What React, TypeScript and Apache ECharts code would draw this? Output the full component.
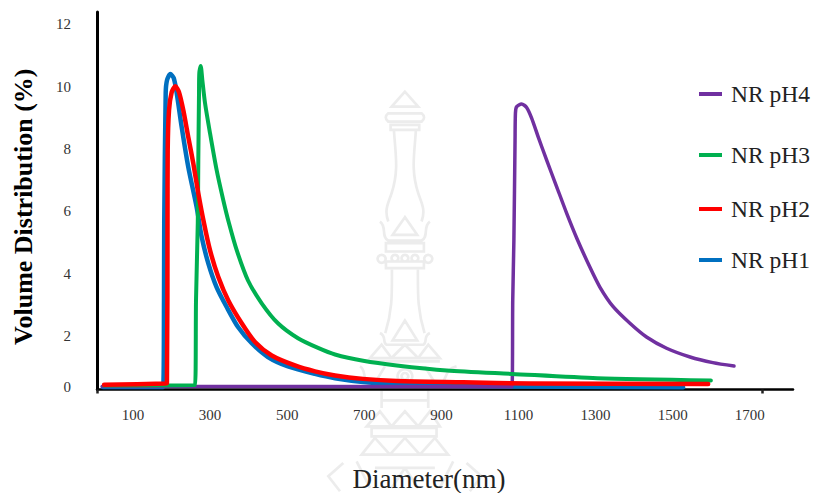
import React, { useEffect, useRef } from "react";
import * as echarts from "echarts";

const serif = "'Liberation Serif', 'Times New Roman', serif";

const seriesNames = ["NR pH1", "NR pH4", "NR pH3", "NR pH2"];
const seriesColors = ["#0070C0", "#7030A0", "#00B050", "#FF0000"];

const ph1: number[][] = [[22,0.38],[178,0.38],[180.4,3.15],[181,5.62],[184.8,9.79],[188.2,10.2],[196.8,10.4],[205.6,10.27],[213.4,9.79],[226.3,8.7],[243.4,7.42],[265.2,6.13],[278.2,5.18],[295.3,4.34],[317,3.57],[343,2.94],[372.4,2.3],[408,1.78],[450,1.34],[502,1.04],[572,0.8],[624,0.66],[697,0.54],[785,0.46],[948,0.41],[1527,0.37]];
const ph2: number[][] = [[25,0.45],[183,0.49],[188,0.5],[189.5,5.62],[190,7.96],[193.4,9.24],[200.4,9.82],[209.7,10.01],[219.3,9.82],[230.5,9.24],[243.4,8.38],[256.4,7.54],[269.4,6.58],[284.2,5.62],[299.7,4.76],[321.3,3.9],[347.2,3.15],[382,2.42],[416.5,1.82],[459.8,1.39],[520,1.07],[572,0.88],[624,0.75],[696.6,0.64],[784.8,0.57],[956,0.53],[1130,0.49],[1592,0.48]];
const ph3: number[][] = [[25,0.43],[261,0.445],[263.4,3.15],[268,5.62],[269.4,7.64],[271.2,9.79],[272,10.44],[275.6,10.66],[279.8,10.21],[286.8,9.47],[299.7,8.51],[317,7.32],[334.2,6.36],[349,5.62],[369,4.76],[398.3,3.79],[433.8,3.06],[476,2.42],[528,1.94],[580,1.63],[624,1.42],[697,1.22],[784,1.07],[914,0.91],[1083,0.8],[1304,0.66],[1599,0.59]];
const ph4: number[][] = [[20,0.4],[1083,0.39],[1085,3.15],[1088,5.08],[1091,8.28],[1092,9.15],[1095,9.35],[1108,9.44],[1121,9.33],[1134,8.99],[1151,8.39],[1173,7.64],[1199,6.79],[1225,5.94],[1252,5.12],[1285,4.22],[1311,3.58],[1345,2.96],[1389,2.42],[1432,1.98],[1484,1.62],[1545,1.34],[1604,1.16],[1659,1.05]];
const seriesData = [ph1, ph4, ph3, ph2];

const xTickLabels = [100, 300, 500, 700, 900, 1100, 1300, 1500, 1700];
const yTickLabels = [0.365, 2, 4, 6, 8, 10, 12];
const xMin = 6.6;
const xMax = 1812;
const yMin = 0.3;
const yMax = 12.385;
const xTickMarks = [xMin, 1731];

const legendOrder = [
  { name: "NR pH4", top: 82 },
  { name: "NR pH3", top: 143 },
  { name: "NR pH2", top: 197 },
  { name: "NR pH1", top: 248 },
];

const emblem = [
  // finial
  "M255 35 L215 80 H295 Z",
  "M205 100 H305 Q320 112 305 125 H205 Q190 112 205 100 Z",
  "M212 135 H298 V150 H212 Z",
  "M222 150 C226 220 238 270 215 340 C205 370 192 390 205 425",
  "M288 150 C284 220 272 270 295 340 C305 370 318 390 305 425",
  // upper crown
  "M255 412 L218 465 H292 Z",
  "M180 425 C202 440 182 470 205 482 H305 C328 470 308 440 330 425",
  "M198 490 H312 V515 H198 Z",
  "M185 525 a12 12 0 1 0 0.1 0 M225 525 a10 10 0 1 0 0.1 0 M255 525 a10 10 0 1 0 0.1 0 M285 525 a10 10 0 1 0 0.1 0 M325 525 a12 12 0 1 0 0.1 0",
  "M198 545 H312 V565 H198 Z",
  // lower stem
  "M216 570 C216 640 218 690 196 760",
  "M294 570 C294 640 292 690 314 760",
  "M255 722 L218 782 H292 Z",
  "M180 760 C202 770 186 790 200 795 H310 C324 790 308 770 330 760",
  // tiers
  "M150 835 L185 795 L215 835 Z M215 835 L255 795 L295 835 Z M295 835 L325 795 L360 835 Z",
  "M150 845 H360",
  "M120 860 C140 870 125 900 150 915 H360 C385 900 370 870 410 860",
  "M255 868 a22 22 0 1 0 0.1 0 M255 880 a10 10 0 1 0 0.1 0",
  "M195 860 L165 910 M315 860 L345 910",
  "M185 930 H325 V962 H185 Z",
  "M185 962 V985 M325 962 V985",
  "M140 1040 L180 995 L215 1040 Z M215 1040 L255 995 L295 1040 Z M295 1040 L330 995 L360 1040 Z",
  "M155 1045 H350 V1070 H155 Z",
  "M125 1125 L165 1075 L210 1125 Z M210 1125 L255 1075 L300 1125 Z M300 1125 L345 1075 L385 1125 Z",
  "M70 1150 L25 1190 L60 1235 M440 1150 L485 1190 L450 1235",
  "M110 1145 L150 1225 M400 1145 L360 1225",
  "M165 1165 H345 M255 1165 L215 1225 M255 1165 L295 1225",
].join(" ");

echarts.graphic.registerShape("emblem", echarts.graphic.extendPath(emblem, {}) as any);

export default function App() {
  const ref = useRef<HTMLDivElement>(null);
  useEffect(() => {
    document.body.style.margin = "0";
    document.body.style.background = "#fff";
    const chart = echarts.init(ref.current!, undefined, { renderer: "svg" });
    chart.setOption({
      animation: false,
      backgroundColor: "#ffffff",
      textStyle: { fontFamily: serif },
      grid: { left: 97, right: 21, top: 12, bottom: 103.5, containLabel: false, outerBoundsMode: "none" },
      graphic: [
        {
          type: "emblem",
          x: 320,
          y: 80,
          scaleX: 1 / 3,
          scaleY: 1 / 3,
          silent: true,
          z: 0,
          style: { fill: "none", stroke: "#ececec", lineWidth: 8 },
        },
      ],
      legend: legendOrder.map((l) => ({
        data: [{ name: l.name, icon: "rect" }],
        left: 699,
        top: l.top,
        itemWidth: 23,
        itemHeight: 4,
        itemGap: 0,
        padding: 0,
        selectedMode: false,
        textStyle: { fontFamily: serif, fontSize: 23.5, color: "#222", padding: [0, 0, 0, 4] },
      })),
      xAxis: {
        type: "value",
        min: xMin,
        max: xMax,
        name: "Diameter(nm)",
        nameLocation: "middle",
        nameGap: 76,
        nameTextStyle: { fontFamily: serif, fontSize: 27, color: "#222", padding: [0, 32, 0, 0] },
        splitLine: { show: false },
        axisLine: { show: true, onZero: false, lineStyle: { color: "#000", width: 2.5 } },
        axisTick: { show: true, customValues: xTickMarks, length: 4, inside: false, lineStyle: { color: "#222", width: 2.5 } },
        axisLabel: {
          customValues: xTickLabels,
          margin: 18,
          fontFamily: serif,
          fontSize: 15,
          color: "#333",
          hideOverlap: false,
          formatter: (v: number) => String(v),
        },
      },
      yAxis: {
        type: "value",
        min: yMin,
        max: yMax,
        name: "Volume Distribution (%)",
        nameLocation: "middle",
        nameGap: 61,
        nameTextStyle: { fontFamily: serif, fontSize: 26, fontWeight: "bold", color: "#000", padding: [0, 12, 0, 0] },
        splitLine: { show: false },
        axisLine: { show: true, onZero: false, lineStyle: { color: "#000", width: 3 } },
        axisTick: { show: false },
        axisLabel: {
          customValues: yTickLabels,
          margin: 26,
          fontFamily: serif,
          fontSize: 15,
          color: "#333",
          formatter: (v: number) => (v < 1 ? "0" : String(v)),
        },
      },
      series: seriesNames.map((name, i) => ({
        name,
        type: "line",
        data: seriesData[i],
        showSymbol: false,
        symbol: "none",
        smooth: 0.25,
        clip: false,
        z: 3 + i,
        itemStyle: { color: seriesColors[i] },
        lineStyle: {
          color: seriesColors[i],
          width: [4.5, 3.5, 4, 4.5][i],
          cap: "round",
          join: "round",
        },
      })),
    });
    return () => chart.dispose();
  }, []);
  return <div ref={ref} style={{ width: 814, height: 493 }} />;
}
